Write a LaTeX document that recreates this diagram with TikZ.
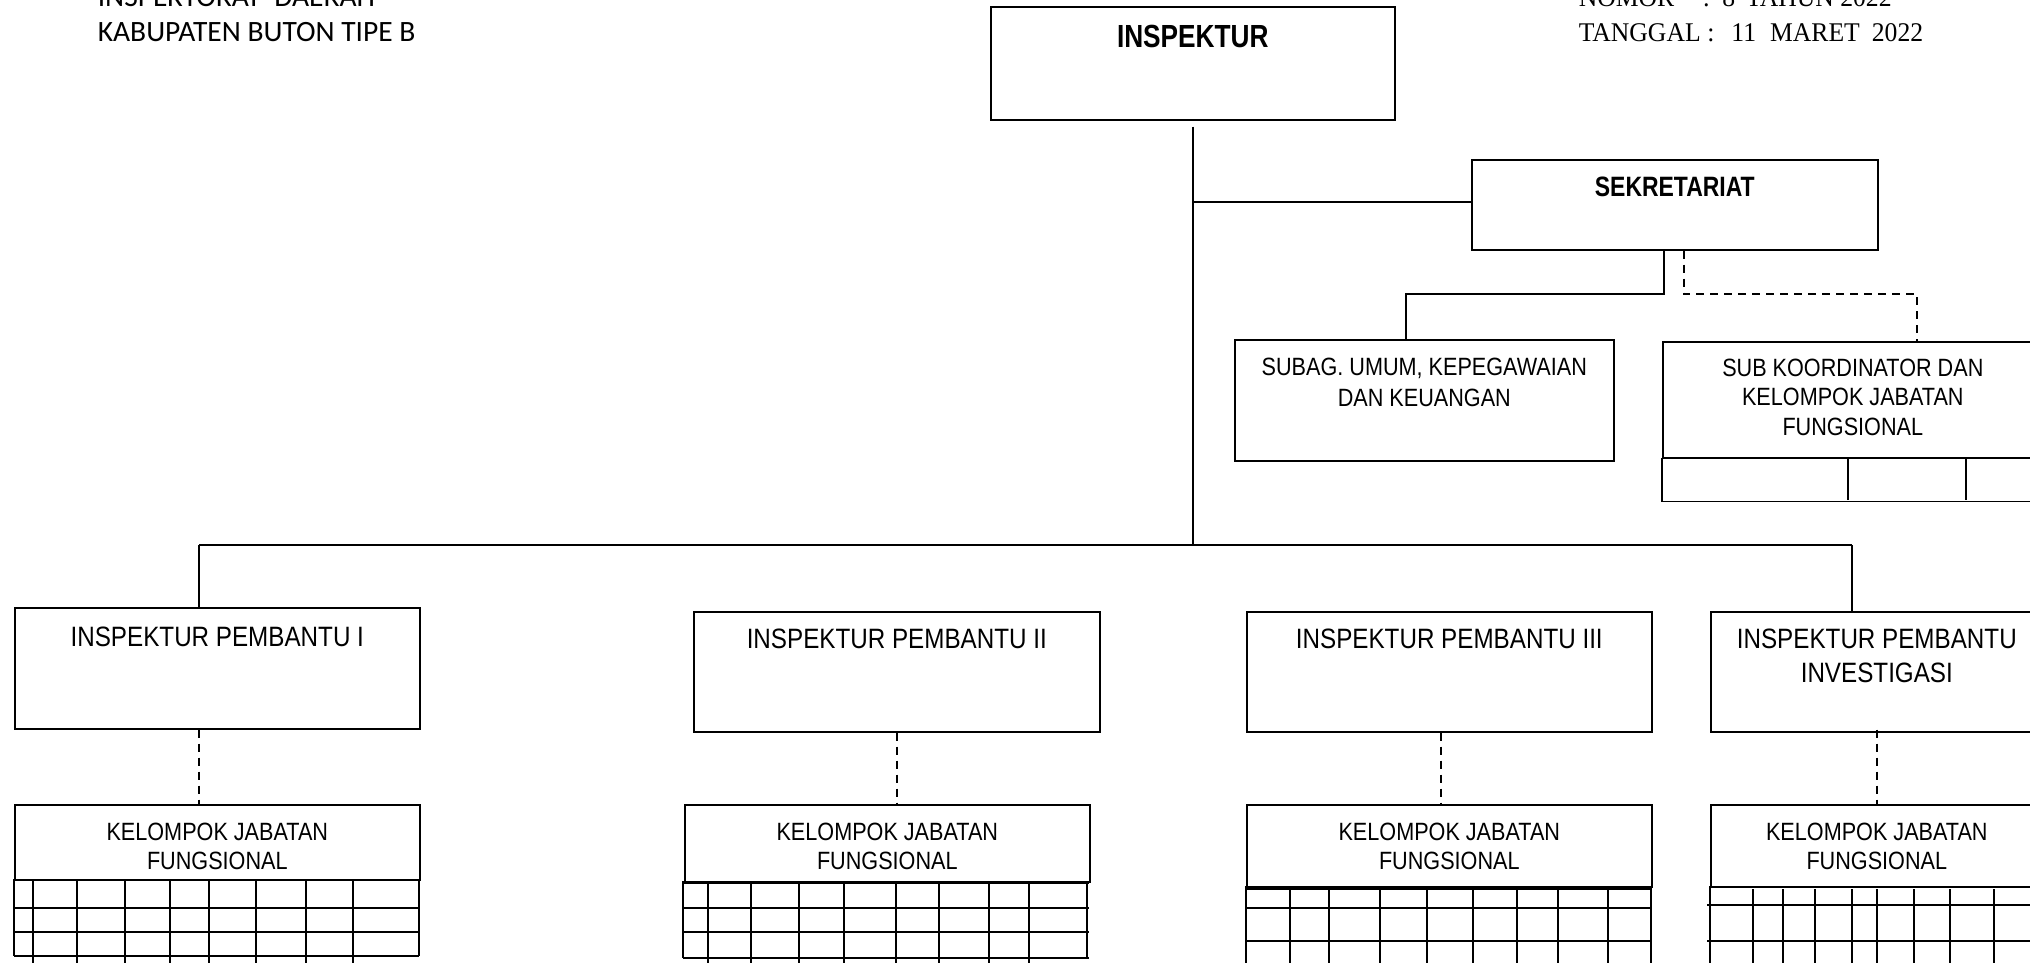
\documentclass[tikz,border=0pt]{standalone}
\usepackage{fontspec}
\setmainfont{Liberation Sans}
\newfontfamily\boxfont{Liberation Sans}[FakeStretch=0.865]
\newfontfamily\boxbold{Liberation Sans}[FakeStretch=0.82]
\newfontfamily\hdrfont{Carlito}
\newfontfamily\datefont{Liberation Serif}[FakeStretch=0.95]
\usetikzlibrary{positioning}
\tikzset{
  every picture/.style = {
    x = 1pt,
    y = -1pt,
    line width = 1.6pt
  }
  ,
  orgbox/.style = {
    rectangle,
    draw,
    inner sep = 0pt,
    anchor = north west
  }
  , % texts hanging from the top of a box
  label-big/.style = {
    anchor = north,
    align = center,
    inner sep = 0pt,
    font = \boxfont\fontsize{28}{34}\selectfont
  }
  ,
  label-small/.style = {
    anchor = north,
    align = center,
    inner sep = 0pt,
    font = \boxfont\fontsize{25}{29.5}\selectfont
  }
  ,
  label-bold/.style = {
    anchor = north,
    inner sep = 0pt,
    font = \boxbold\bfseries\fontsize{#1}{#1}\selectfont
  }
  , % heading lines
  head-left/.style = {
    anchor = base west,
    inner sep = 0pt,
    font = \hdrfont\fontsize{29.5}{34}\selectfont
  }
  ,
  head-right/.style = {
    anchor = base west,
    inner sep = 0pt,
    font = \datefont\fontsize{27}{34}\selectfont
  }
  ,
  dash-link/.style = {
    dash pattern = on 8pt off 6pt
  }
}

\begin{document}
\begin{tikzpicture}
\clip (0,0) rectangle (2030,962);
% heading
\node[head-left] (hdr1) at (97,6) {INSPEKTORAT\ \ DAERAH};
\node[head-left] (hdr2) at (97,41) {KABUPATEN BUTON TIPE B};
\node[head-right] (nomor) at (1578,6) {\makebox[124pt][l]{NOMOR}:\hspace{12.5pt}8\hspace{11pt}TAHUN 2022};
\node[head-right] (tanggal) at (1578,41) {\makebox[124pt][l]{TANGGAL}\,:\hspace{17pt}11\hspace{14pt}MARET\hspace{12pt}2022};

% top of the chart
\node[orgbox, minimum width=404pt, minimum height=113pt,
  label={[label-bold=32, yshift=-18pt]north:INSPEKTUR}] (insp) at (990,6) {};
\node[orgbox, minimum width=406pt, minimum height=90pt,
  label={[label-bold=28, yshift=-17pt]north:SEKRETARIAT}] (sekr) at (1471,159) {};
\node[orgbox, minimum width=379pt, minimum height=121pt,
  label={[label-small, yshift=-18pt, font=\boxfont\fontsize{25}{31}\selectfont]north:{SUBAG. UMUM, KEPEGAWAIAN\\DAN KEUANGAN}}] (subag) at (1234,339) {};
\node[orgbox, minimum width=380pt, minimum height=116pt,
  label={[label-small, yshift=-17pt]north:{SUB KOORDINATOR DAN\\KELOMPOK JABATAN\\FUNGSIONAL}}] (subk) at (1662,341) {};

% inspektur pembantu
\node[orgbox, minimum width=405pt, minimum height=121pt,
  label={[label-big, yshift=-19pt]north:INSPEKTUR PEMBANTU I}] (pb1) at (14,607) {};
\node[orgbox, minimum width=406pt, minimum height=120pt,
  label={[label-big, yshift=-17pt]north:INSPEKTUR PEMBANTU II}] (pb2) at (693,611) {};
\node[orgbox, minimum width=405pt, minimum height=120pt,
  label={[label-big, yshift=-17pt]north:INSPEKTUR PEMBANTU III}] (pb3) at (1246,611) {};
\node[orgbox, minimum width=332pt, minimum height=120pt,
  label={[label-big, yshift=-17pt]north:{INSPEKTUR PEMBANTU\\INVESTIGASI}}] (pb4) at (1710,611) {};

% kelompok jabatan fungsional
\node[orgbox, minimum width=405pt, minimum height=75pt,
  label={[label-small, yshift=-18pt]north:{KELOMPOK JABATAN\\FUNGSIONAL}}] (kjf1) at (14,804) {};
\node[orgbox, minimum width=405pt, minimum height=77pt,
  label={[label-small, yshift=-18pt]north:{KELOMPOK JABATAN\\FUNGSIONAL}}] (kjf2) at (684,804) {};
\node[orgbox, minimum width=405pt, minimum height=82pt,
  label={[label-small, yshift=-18pt]north:{KELOMPOK JABATAN\\FUNGSIONAL}}] (kjf3) at (1246,804) {};
\node[orgbox, minimum width=332pt, minimum height=82pt,
  label={[label-small, yshift=-18pt]north:{KELOMPOK JABATAN\\FUNGSIONAL}}] (kjf4) at (1710,804) {};

% lines of command
\coordinate (busL) at (199,545);
\coordinate (busR) at (1852,545);
\coordinate (forkS) at (1406,294);
\coordinate (forkK) at (1917,294);
\draw[shorten <=6pt] (insp.south) -- (insp.south |- busL);
\draw ([yshift=3pt]sekr.west -| insp.south) -- ([yshift=3pt]sekr.west);
\draw (busL) -- (busR);
\draw (busL) -- (busL |- pb1.north);
\draw (busR) -- (busR |- pb4.north);
\draw ([xshift=-11pt]sekr.south) |- (forkS) -- (forkS |- subag.north);
\draw[dash-link] ([xshift=9pt]sekr.south) |- (forkK) -- (forkK |- subk.north);
\draw[dash-link] (pb1.south -| busL) -- (kjf1.north -| busL);
\draw[dash-link] (pb2.south) -- (pb2.south |- kjf2.north);
\draw[dash-link] ([xshift=-8.5pt]pb3.south) -- ([xshift=-8.5pt]pb3.south |- kjf3.north);
\draw[dash-link] ([yshift=3pt]pb4.south) -- (pb4.south |- kjf4.north);

% tables under the boxes
\draw (subk.south west) rectangle ([yshift=-43pt]subk.south east);
\foreach \x in {1848,1966}
  \draw (\x,457) -- (\x,500);

\draw (14,879) -- (14,956) (419,879) -- (419,956);
\foreach \y in {908,932,956}
  \draw (14,\y) -- (419,\y);
\foreach \x in {33,77,125,170,209,256,306,353}
  \draw (\x,879) -- (\x,970);

\draw (683,881) -- (683,958) (1087,881) -- (1087,958);
\foreach \y in {883,908,932,958}
  \draw (683,\y) -- (1089,\y);
\foreach \x in {708,751,799,844,896,939,989,1029}
  \draw (\x,883) -- (\x,970);

\draw (1246,886) -- (1246,970) (1651,886) -- (1651,970);
\foreach \y in {889,908,941}
  \draw (1246,\y) -- (1651,\y);
\foreach \x in {1290,1329,1380,1427,1473,1517,1558,1608}
  \draw (\x,889) -- (\x,970);

\draw (1710,886) -- (1710,970);
\foreach \y in {905,941}
  \draw (1707,\y) -- (2042,\y);
\foreach \x in {1753,1783,1815,1852,1877,1914,1950,1994}
  \draw (\x,889) -- (\x,970);
\end{tikzpicture}
\end{document}
